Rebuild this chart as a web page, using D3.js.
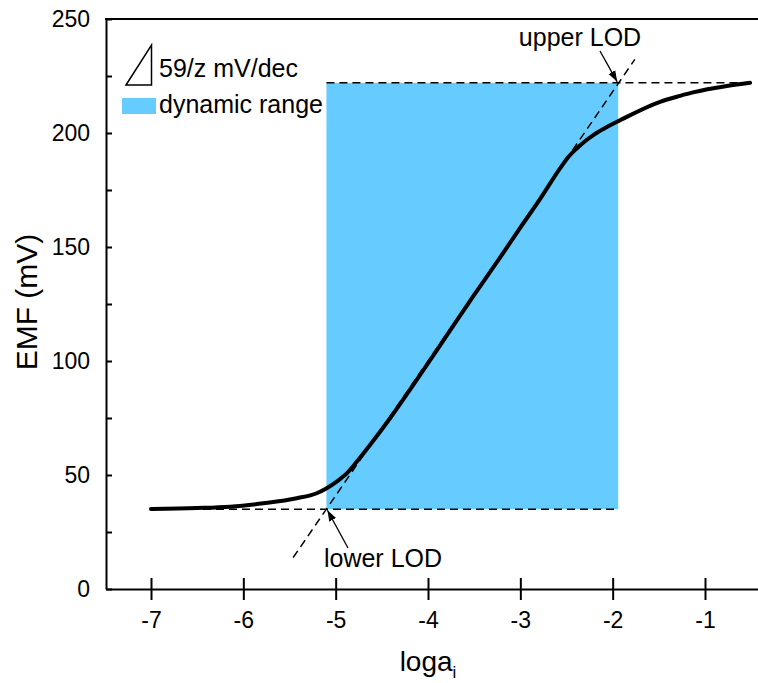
<!DOCTYPE html>
<html>
<head>
<meta charset="utf-8">
<script src="https://cdn.jsdelivr.net/npm/d3@7"></script>
<style>
  html, body { margin: 0; padding: 0; background: #fff; }
  svg { display: block; font-family: "Liberation Sans", Arial, sans-serif; }
</style>
</head>
<body>
<svg id="chart" width="758" height="683"></svg>
<script>
// Response curve of an ion-selective electrode: EMF versus log activity
const logA = [-7, -6.5, -6.144, -5.784, -5.422, -5.205, -5.097, -4.989, -4.88, -4.772,
              -4.628, -4.411, -4.122, -3.8, -3.5, -3.2, -3.0, -2.787, -2.57, -2.48,
              -2.389, -2.3, -2.213, -2.1, -1.92, -1.487, -1.27, -1.13, -0.762, -0.512];
const emf  = [35.1, 35.5, 36.1, 37.6, 39.8, 42.0, 44.2, 47.1, 50.7, 55.8,
              63.2, 74.9, 91.7, 111, 129, 146.5, 158.5, 171, 184.5, 189.5,
              193.2, 196.4, 199, 201.8, 205.6, 213.7, 216.3, 217.8, 220.6, 222];

// Limits of detection and the Nernstian tangent (59/z mV per decade)
const lowerLOD = [-5.1, 35];
const upperLOD = [-1.94, 222];
const tangentX = [-5.46, -1.76];
const tangentY = [13.8, 232.3];

// Axis ticks
const xTicks = [-7, -6, -5, -4, -3, -2, -1];
const yTicks = [0, 25, 50, 75, 100, 125, 150, 175, 200, 225, 250];
const yLabelled = [0, 50, 100, 150, 200, 250];

const svg = d3.select("#chart");
const plotL = 106, plotR = 758, plotT = 19, plotB = 589;

// one decade of activity spans about 92 px; the frame runs past -1 to the right edge
const xRef = d3.scaleLinear().domain([-7, -1]).range([151, 705]);
const x = d3.scaleLinear().domain([xRef.invert(plotL), xRef.invert(plotR)]).range([plotL, plotR]);
const y = d3.scaleLinear().domain([0, 250]).range([plotB, plotT]);

// Dynamic range band
svg.append("rect")
  .attr("x", x(lowerLOD[0]))
  .attr("y", y(upperLOD[1]))
  .attr("width", x(upperLOD[0]) - x(lowerLOD[0]))
  .attr("height", y(lowerLOD[1]) - y(upperLOD[1]))
  .attr("fill", "#66ccff");

// Dashed guide lines
const dash = "8,5";
svg.append("line")
  .attr("x1", x(-7)).attr("x2", x(upperLOD[0]))
  .attr("y1", y(lowerLOD[1])).attr("y2", y(lowerLOD[1]))
  .attr("stroke", "#000").attr("stroke-width", 1.5).attr("stroke-dasharray", dash);
svg.append("line")
  .attr("x1", x(lowerLOD[0])).attr("x2", x(-0.52))
  .attr("y1", y(upperLOD[1])).attr("y2", y(upperLOD[1]))
  .attr("stroke", "#000").attr("stroke-width", 1.5).attr("stroke-dasharray", dash);
svg.append("line")
  .attr("x1", x(tangentX[0])).attr("x2", x(tangentX[1]))
  .attr("y1", y(tangentY[0])).attr("y2", y(tangentY[1]))
  .attr("stroke", "#000").attr("stroke-width", 1.5).attr("stroke-dasharray", dash);

// Response curve
const line = d3.line()
  .x((d, i) => x(logA[i]))
  .y(d => y(d))
  .curve(d3.curveMonotoneX);
svg.append("path")
  .datum(emf)
  .attr("d", line)
  .attr("fill", "none")
  .attr("stroke", "#000")
  .attr("stroke-width", 4)
  .attr("stroke-linejoin", "round")
  .attr("stroke-linecap", "round");

// Arrow heads
const defs = svg.append("defs");
defs.append("marker")
  .attr("id", "arrow")
  .attr("viewBox", "0 0 10 10")
  .attr("refX", 10).attr("refY", 5)
  .attr("markerWidth", 11).attr("markerHeight", 11)
  .attr("markerUnits", "userSpaceOnUse")
  .attr("orient", "auto")
  .append("path")
  .attr("d", "M0,1.5 L10,5 L0,8.5 Z")
  .attr("fill", "#000");

// Annotation arrows pointing at the two limits
svg.append("line")
  .attr("x1", 600).attr("y1", 51)
  .attr("x2", x(upperLOD[0]) - 1).attr("y2", y(upperLOD[1]) - 1)
  .attr("stroke", "#000").attr("stroke-width", 1.3)
  .attr("marker-end", "url(#arrow)");
svg.append("line")
  .attr("x1", 348).attr("y1", 548)
  .attr("x2", x(lowerLOD[0]) + 1).attr("y2", y(lowerLOD[1]) + 1)
  .attr("stroke", "#000").attr("stroke-width", 1.3)
  .attr("marker-end", "url(#arrow)");

svg.append("text").attr("x", 580).attr("y", 46)
  .attr("text-anchor", "middle").attr("font-size", 25).text("upper LOD");
svg.append("text").attr("x", 383).attr("y", 567)
  .attr("text-anchor", "middle").attr("font-size", 25).text("lower LOD");

// Axes
const xAxis = d3.axisBottom(x)
  .tickValues(xTicks)
  .tickSize(11)
  .tickSizeOuter(0)
  .tickPadding(12)
  .tickFormat(d => d);
const gx = svg.append("g").attr("transform", `translate(0,${plotB})`).call(xAxis);
gx.selectAll(".tick line").attr("y1", -11).attr("stroke-width", 2);
gx.select(".domain").attr("stroke-width", 2);
gx.selectAll("text").attr("font-size", 23).attr("fill", "#000");

const yAxis = d3.axisLeft(y)
  .tickValues(yTicks)
  .tickSize(-6)
  .tickSizeOuter(0)
  .tickPadding(16)
  .tickFormat(d => yLabelled.includes(d) ? d : "");
const gy = svg.append("g").attr("transform", `translate(${plotL},0)`).call(yAxis);
gy.selectAll(".tick line").attr("stroke-width", 2);
gy.select(".domain").attr("stroke-width", 2);
gy.selectAll("text").attr("font-size", 23).attr("fill", "#000");

svg.selectAll("g").attr("font-family", null);

// Top frame line
svg.append("line")
  .attr("x1", plotL - 1).attr("x2", plotR)
  .attr("y1", plotT).attr("y2", plotT)
  .attr("stroke", "#000").attr("stroke-width", 2);

// Axis titles
const xt = svg.append("text").attr("x", 428).attr("y", 671)
  .attr("text-anchor", "middle").attr("font-size", 28);
xt.append("tspan").text("loga");
xt.append("tspan").attr("font-size", 17).attr("dy", 7).text("i");

svg.append("text")
  .attr("transform", "translate(37,302) rotate(-90)")
  .attr("text-anchor", "middle").attr("font-size", 30)
  .text("EMF (mV)");

// Legend
const lg = svg.append("g");
lg.append("path")
  .attr("d", "M126,85 L151.5,45 L151.5,85 Z")
  .attr("fill", "none").attr("stroke", "#000").attr("stroke-width", 1.5);
lg.append("text").attr("x", 159).attr("y", 77).attr("font-size", 25).text("59/z mV/dec");
lg.append("rect").attr("x", 122).attr("y", 98).attr("width", 34).attr("height", 16).attr("fill", "#66ccff");
lg.append("text").attr("x", 159).attr("y", 113).attr("font-size", 25).text("dynamic range");
</script>
</body>
</html>
